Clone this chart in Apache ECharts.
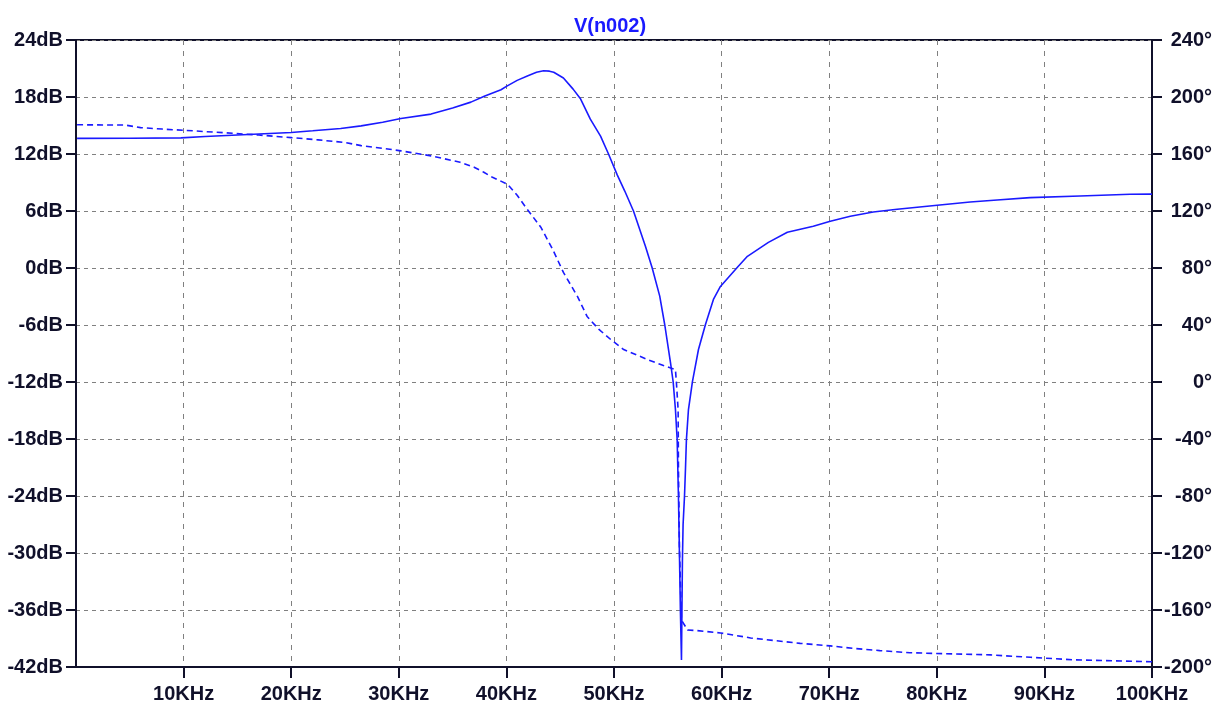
<!DOCTYPE html>
<html>
<head>
<meta charset="utf-8">
<script src="https://cdn.jsdelivr.net/npm/echarts@6/dist/echarts.min.js"></script>
<style>
html,body{margin:0;padding:0;background:#fff;}
#chart{width:1220px;height:711px;}
</style>
</head>
<body>
<div id="chart"></div>
<script>
// Frequency in KHz
var freqMag = [0.1, 5, 9.75, 12, 16, 20, 22, 24.6, 26.5, 28.5, 30.2, 33, 35, 36.7, 38, 39.5, 40, 41, 42, 42.8, 43.45, 44, 44.4, 45.3, 46.2, 46.9, 47.8, 48.75, 49.49, 50.3, 51.0, 51.81, 52.92, 53.55, 54.25, 54.72, 55.25, 55.5, 55.71, 55.87, 55.99, 56.08, 56.17, 56.27, 56.36, 56.42, 56.55, 56.64, 56.73, 56.92, 57.29, 57.85, 58.5, 59.24, 59.89, 61.47, 62.4, 64.35, 66.11, 68.52, 70.1, 71.96, 74.09, 76.32, 80.04, 83.1, 85.61, 88.67, 93.31, 97.96, 100];
var magDb = [13.64, 13.66, 13.7, 13.85, 14.05, 14.27, 14.44, 14.69, 14.96, 15.35, 15.74, 16.2, 16.85, 17.46, 18.1, 18.76, 19.12, 19.75, 20.24, 20.6, 20.76, 20.72, 20.6, 20.0, 18.83, 17.78, 15.67, 13.88, 12.0, 9.8, 8.1, 6.0, 2.28, 0.0, -2.96, -6.0, -9.95, -12.0, -14.9, -18.07, -24.08, -29.98, -36.0, -41.26, -30.72, -27.03, -24.08, -21.23, -18.07, -14.9, -11.95, -8.58, -5.94, -3.31, -1.94, 0.07, 1.23, 2.7, 3.76, 4.39, 4.92, 5.45, 5.9, 6.18, 6.6, 6.95, 7.16, 7.41, 7.58, 7.76, 7.78];

var freqPh = [0.1, 4.6, 6, 8, 11, 14, 17, 20, 22.5, 25, 26.5, 28.5, 30.2, 33, 35.7, 37, 37.9, 38.7, 40.1, 41, 41.8, 43.2, 44.3, 45.3, 46.6, 47.5, 48.6, 49.7, 50.9, 53.1, 54.6, 55.71, 55.8, 55.96, 55.99, 56.08, 56.27, 56.83, 57.75, 59.9, 62.7, 67.3, 70.1, 72.2, 74.7, 77.5, 85, 88.7, 92.85, 100];
var phaseDeg = [180.5, 180.3, 178.5, 177.5, 176.2, 174.8, 173.3, 171.5, 169.9, 168.1, 165.9, 164, 162.2, 158.7, 154.2, 150.7, 147.2, 143.7, 138.8, 131, 122.6, 108.6, 93.1, 76.9, 60.1, 46.0, 36.9, 29.8, 22.8, 15.8, 11.5, 8.7, -0.4, -19.4, -59.4, -115.7, -167, -174, -174.5, -176.1, -179.6, -183.4, -185.2, -186.9, -188.5, -190, -191.5, -193.2, -195, -196.3];

var xTicks = [10, 20, 30, 40, 50, 60, 70, 80, 90, 100];
var titleText = 'V(n002)';

var magData = freqMag.map(function (f, i) { return [f, magDb[i]]; });
var phData = freqPh.map(function (f, i) { return [f, phaseDeg[i]]; });

var FONT = '"Liberation Sans", Arial, sans-serif';
var INK = '#10102a';
var BLUE = '#1a1aff';
var GRID = '#808080';

var chart = echarts.init(document.getElementById('chart'), null, {renderer: 'canvas'});
chart.setOption({
  animation: false,
  backgroundColor: '#ffffff',
  title: {
    text: titleText,
    left: 'center',
    top: 11,
    textStyle: {color: BLUE, fontSize: 20, fontWeight: 'bold', fontFamily: FONT}
  },
  grid: {
    left: 76, right: 68, top: 40, bottom: 44,
    outerBoundsMode: 'none', containLabel: false,
    show: true, borderColor: INK, borderWidth: 2, backgroundColor: 'transparent'
  },
  xAxis: {
    type: 'value', min: 0, max: 100, interval: 10,
    axisLine: {show: true, onZero: false, lineStyle: {color: INK, width: 2}},
    axisTick: {show: true, length: 11, inside: false, customValues: xTicks, lineStyle: {color: INK, width: 2}},
    axisLabel: {
      customValues: xTicks,
      margin: 17, color: INK, fontSize: 20, fontWeight: 'bold', fontFamily: FONT,
      formatter: function (v) { return v + 'KHz'; }
    },
    splitLine: {show: true, lineStyle: {color: GRID, width: 1, type: [5, 6]}}
  },
  yAxis: [
    {
      type: 'value', min: -42, max: 24, interval: 6, position: 'left',
      axisLine: {show: true, onZero: false, lineStyle: {color: INK, width: 2}},
      axisTick: {show: true, length: 10, lineStyle: {color: INK, width: 2}},
      axisLabel: {margin: 13, color: INK, fontSize: 20, fontWeight: 'bold', fontFamily: FONT,
        formatter: function (v) { return v + 'dB'; }},
      splitLine: {show: true, lineStyle: {color: GRID, width: 1, type: [4, 4]}}
    },
    {
      type: 'value', min: -200, max: 240, interval: 40, position: 'right',
      axisLine: {show: true, onZero: false, lineStyle: {color: INK, width: 2}},
      axisTick: {show: true, length: 10, lineStyle: {color: INK, width: 2}},
      axisLabel: {margin: 60, align: 'right', color: INK, fontSize: 20, fontWeight: 'bold', fontFamily: FONT,
        formatter: function (v) { return v + '°'; }},
      splitLine: {show: false}
    }
  ],
  series: [
    {
      type: 'line', name: 'mag', yAxisIndex: 0, data: magData,
      showSymbol: false, smooth: false,
      lineStyle: {color: BLUE, width: 1.6, type: 'solid'}
    },
    {
      type: 'line', name: 'phase', yAxisIndex: 1, data: phData,
      showSymbol: false, smooth: false,
      lineStyle: {color: BLUE, width: 1.6, type: [6, 4]}
    }
  ]
});
</script>
</body>
</html>
